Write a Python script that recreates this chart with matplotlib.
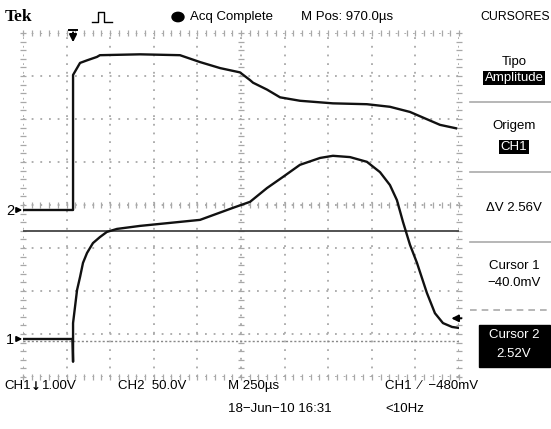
import matplotlib
matplotlib.use("Agg")
import matplotlib.pyplot as plt
from matplotlib.lines import Line2D
import numpy as np

plt.rcParams['font.family'] = ['Liberation Sans', 'DejaVu Sans']

# ---- data (time in µs from left edge of screen, volts) ----
ch2_t = [0, 287, 287, 327, 367, 424, 441, 671, 900, 1015, 1130, 1244, 1302, 1319,
         1399, 1474, 1588, 1777, 1972, 2104, 2219, 2391, 2483]
ch2_v = [0, 0, 157, 171, 174, 178, 180, 181, 180, 172, 165, 160, 151, 148,
         140, 131, 127, 124, 123, 120, 114, 99, 95]

ch1_t = [0, 284, 287, 287, 287, 310, 327, 344, 367, 401, 441, 481, 539, 671, 843,
         1015, 1204, 1302, 1399, 1491, 1588, 1703, 1777, 1875, 1972, 2047, 2104,
         2144, 2179, 2219, 2259, 2316, 2362, 2408, 2460, 2494]
ch1_v = [0, 0, -0.53, 0.0, 0.37, 1.14, 1.44, 1.77, 2.00, 2.23, 2.37, 2.49, 2.56,
         2.63, 2.70, 2.77, 3.05, 3.19, 3.51, 3.77, 4.05, 4.21, 4.26, 4.23, 4.12,
         3.88, 3.58, 3.23, 2.72, 2.19, 1.77, 1.07, 0.60, 0.37, 0.28, 0.26]

ch1_scale = 1.0      # V/div
ch2_scale = 50.0     # V/div
ch1_pos = -3.116     # div
ch2_pos = -0.116     # div
cursor1 = -0.040     # V
cursor2 = 2.52       # V
trig_t = 287         # µs
trig_level_div = 0.48

FS = 9.5

W, H = 551, 429
fig = plt.figure(figsize=(W / 100, H / 100), dpi=100)
fig.patch.set_facecolor('white')

def fx(x):
    return x / W

def fy(y):
    return 1 - y / H

ax = fig.add_axes([fx(23), fy(377), (459 - 23) / W, (377 - 33) / H])
ax.set_xlim(0, 2500)
ax.set_ylim(-4, 4)
ax.axis('off')

grid_c = '#a8a8a8'
# grid (dotted)
for xv in np.arange(0, 2501, 250):
    ax.plot([xv, xv], [-4, 4], color=grid_c, lw=1.3, ls=(0, (1, 3.8)), zorder=1)
for yv in np.arange(-4, 4.01, 1):
    ax.plot([0, 2500], [yv, yv], color=grid_c, lw=1.3, ls=(0, (1, 3.8)), zorder=1)
# minor ticks on center lines and border
mx = np.arange(0, 2501, 50)
my = np.arange(-4, 4.01, 0.2)
for yy in (0, -4, 4):
    ax.plot(mx, np.full_like(mx, yy, dtype=float), ls='none', marker='|', ms=4,
            mew=0.9, color=grid_c, zorder=1, clip_on=False)
for xx in (1250, 0, 2500):
    ax.plot(np.full_like(my, xx), my, ls='none', marker='_', ms=4,
            mew=0.9, color=grid_c, zorder=1, clip_on=False)

# cursors
ax.plot([0, 2500], [cursor2 / ch1_scale + ch1_pos] * 2, color='#444444', lw=1.3, zorder=2)
ax.plot([0, 2500], [cursor1 / ch1_scale + ch1_pos] * 2, color='#888888', lw=1.0,
        ls=(0, (1.5, 1.5)), zorder=2)

# traces
ax.plot(ch2_t, np.array(ch2_v) / ch2_scale + ch2_pos, color='#111111', lw=1.7, zorder=3,
        solid_joinstyle='round')
ax.plot(ch1_t, np.array(ch1_v) / ch1_scale + ch1_pos, color='#111111', lw=1.7, zorder=3,
        solid_joinstyle='round')

# markers
ax.annotate('', xy=(trig_t, 3.72), xytext=(trig_t, 4.08),
            arrowprops=dict(arrowstyle='-|>', color='black', lw=1.4, mutation_scale=11),
            annotation_clip=False)
ax.plot([trig_t - 25, trig_t + 25], [4.06, 4.06], color='black', lw=1.4, clip_on=False)
ax.annotate('', xy=(2440, trig_level_div + ch1_pos), xytext=(2530, trig_level_div + ch1_pos),
            arrowprops=dict(arrowstyle='-|>', color='black', lw=1.4, mutation_scale=10),
            annotation_clip=False)
fig.text(fx(6), fy(211), '2', fontsize=10.5, va='center', ha='left')
fig.text(fx(6), fy(340), '1', fontsize=10.5, va='center', ha='left')
ax.annotate('', xy=(12, ch2_pos), xytext=(-45, ch2_pos),
            arrowprops=dict(arrowstyle='-|>', color='black', lw=1.2, mutation_scale=8),
            annotation_clip=False)
ax.annotate('', xy=(12, ch1_pos), xytext=(-45, ch1_pos),
            arrowprops=dict(arrowstyle='-|>', color='black', lw=1.2, mutation_scale=8),
            annotation_clip=False)

# header
fig.text(fx(5), fy(17), 'Tek', fontsize=12.5, fontweight='bold', family='Liberation Serif',
         va='center', ha='left')
fig.add_artist(Line2D([fx(92), fx(98), fx(98), fx(104), fx(104), fx(112)],
                      [fy(22), fy(22), fy(12), fy(12), fy(22), fy(22)],
                      color='black', lw=1.0))
fig.add_artist(plt.Circle((fx(178), fy(17)), 6 / W, transform=fig.transFigure,
                          color='black'))
fig.text(fx(190), fy(17), 'Acq Complete', fontsize=FS, va='center', ha='left')
fig.text(fx(301), fy(17), 'M Pos: 970.0\u00b5s', fontsize=FS, va='center', ha='left')
fig.text(fx(515), fy(17), 'CURSORES', fontsize=8.8, va='center', ha='center')

# right panel
px = 514
fig.text(fx(px), fy(62), 'Tipo', fontsize=FS, va='center', ha='center')
fig.text(fx(px), fy(78), 'Amplitude', fontsize=FS, va='center', ha='center', color='white',
         bbox=dict(facecolor='black', edgecolor='none', pad=1.0))
fig.add_artist(Line2D([fx(470), fx(551)], [fy(102), fy(102)], color='#aaaaaa', lw=1.2))
fig.text(fx(px), fy(126), 'Origem', fontsize=FS, va='center', ha='center')
fig.text(fx(px), fy(147), 'CH1', fontsize=FS, va='center', ha='center', color='white',
         bbox=dict(facecolor='black', edgecolor='none', pad=1.0))
fig.add_artist(Line2D([fx(470), fx(551)], [fy(172), fy(172)], color='#aaaaaa', lw=1.2))
fig.text(fx(px), fy(208), '\u0394V 2.56V', fontsize=FS, va='center', ha='center')
fig.add_artist(Line2D([fx(470), fx(551)], [fy(242), fy(242)], color='#aaaaaa', lw=1.2))
fig.text(fx(px), fy(266), 'Cursor 1', fontsize=FS, va='center', ha='center')
fig.text(fx(px), fy(283), '\u221240.0mV', fontsize=FS, va='center', ha='center')
fig.add_artist(Line2D([fx(470), fx(551)], [fy(310), fy(310)], color='#aaaaaa', lw=1.2,
                      ls=(0, (4, 3))))
fig.add_artist(plt.Rectangle((fx(479), fy(367)), 71 / W, 42 / H, transform=fig.transFigure,
                             color='black'))
fig.text(fx(px), fy(335), 'Cursor 2', fontsize=FS, va='center', ha='center', color='white')
fig.text(fx(px), fy(354), '2.52V', fontsize=FS, va='center', ha='center', color='white')

# bottom status
fig.text(fx(4), fy(386), 'CH1', fontsize=FS, va='center', ha='left')
fig.text(fx(36), fy(386), '\u2193', fontsize=8.5, fontweight='bold', va='center',
         ha='center', family='DejaVu Sans')
fig.text(fx(42), fy(386), '1.00V', fontsize=FS, va='center', ha='left')
fig.text(fx(118), fy(386), 'CH2  50.0V', fontsize=FS, va='center', ha='left')
fig.text(fx(228), fy(386), 'M 250\u00b5s', fontsize=FS, va='center', ha='left')
fig.text(fx(228), fy(409), '18\u2212Jun\u221210 16:31', fontsize=FS, va='center', ha='left')
fig.text(fx(385), fy(386), 'CH1  \u2215  \u2212480mV', fontsize=FS, va='center', ha='left')
fig.text(fx(385), fy(409), '<10Hz', fontsize=FS, va='center', ha='left')

fig.savefig('out.png', dpi=100, facecolor='white')
